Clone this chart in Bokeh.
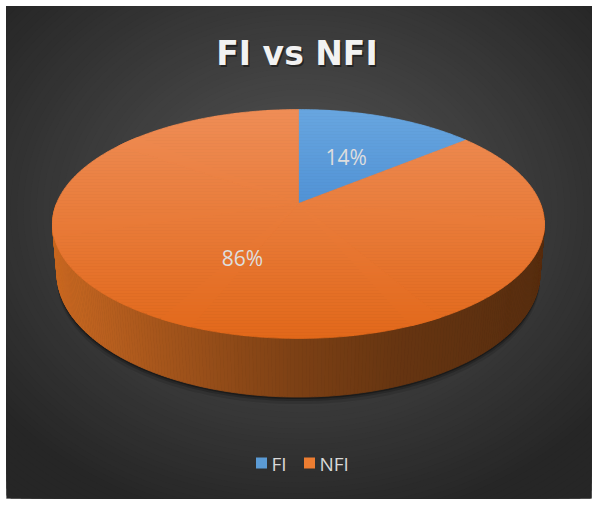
import numpy as np
from bokeh.plotting import figure
from bokeh.models import Range1d
from bokeh.embed import file_html
from bokeh.resources import INLINE
from bokeh.core.properties import value

# ---------------- data ----------------
title_text = "FI vs NFI"
categories = ["FI", "NFI"]
values = [14, 86]
slice_colors = ["#5b9bd5", "#ed7d31"]
# shading of each slice's top face (lighter at back, darker at front)
top_light = ["#68a6e0", "#ef8d56"]
top_dark = ["#2f76c6", "#e2681a"]

FONT = "Open Sans"


def hex2rgb(h):
    h = h.lstrip("#")
    return np.array([int(h[i:i + 2], 16) for i in (0, 2, 4)], dtype=float)


def rgb2hex(c):
    c = np.clip(np.round(c), 0, 255).astype(int)
    return "#%02x%02x%02x" % tuple(c)


def lerp(a, b, f):
    return rgb2hex(hex2rgb(a) * (1 - f) + hex2rgb(b) * f)


# ---------------- figure (data units == page pixels) ----------------
X0, X1, Y0, Y1 = 6, 591, 6, 498
p = figure(width=598, height=507, x_range=Range1d(X0, X1), y_range=Range1d(Y1, Y0),
           output_backend="svg", toolbar_location=None,
           min_border_left=X0, min_border_top=Y0, min_border_right=598 - X1,
           min_border_bottom=507 - Y1,
           x_axis_type=None, y_axis_type=None)
p.grid.visible = False
p.outline_line_color = "#c9c9c9"
p.background_fill_color = "#262626"
p.border_fill_color = "white"

# background radial gradient
bg_cx, bg_cy, bg_a, bg_b = 300, 210, 460, 380
ss = np.linspace(1.0, 0.02, 70)
bg_cols = [lerp("#4b4b4b", "#262626", float(np.clip((s - 0.2) / 0.65, 0, 1))) for s in ss]
p.ellipse(x=[bg_cx] * len(ss), y=[bg_cy] * len(ss), width=list(2 * bg_a * ss),
          height=list(2 * bg_b * ss), fill_color=bg_cols, line_color=None)

# ---------------- 3D pie geometry ----------------
cx = 298.0
cy_top = 203.0


def proj(r, t, top=True):
    if top:
        cy, rx, ry, k = cy_top, 242.0, 110.8, 0.179
    else:
        cy, rx, ry, k = 252.0, 238.0, 120.0, 0.17
    s = r * np.sin(t)
    c = r * np.cos(t)
    d = 1 + k * s
    return cx + rx * c / d, cy - ry * s / d


total = float(sum(values))
bounds = [np.pi / 2]
cum = 0.0
for v in values:
    cum += v
    bounds.append(np.pi / 2 - 2 * np.pi * cum / total)

# shadow under the pie
tt = np.linspace(np.pi, 2 * np.pi, 200)
bx, by = proj(1.0, tt, top=False)
for off, al in ((7, 0.12), (4, 0.2), (2, 0.3)):
    p.patch(list(bx) + [bx[0]], list(by + off) + [by[0]], fill_color="black",
            fill_alpha=al, line_color=None)

# side wall (near half only is visible)
shade_x = [52, 150, 240, 300, 400, 544]
shade_f = [0.85, 0.71, 0.59, 0.52, 0.43, 0.37]


def slice_of(t):
    a = (np.pi / 2 - t) % (2 * np.pi)
    frac = a / (2 * np.pi) * total
    c = 0.0
    for i, v in enumerate(values):
        c += v
        if frac <= c:
            return i
    return len(values) - 1


ts = np.linspace(np.pi, 2 * np.pi, 241)
sx, sy, scol = [], [], []
for i in range(len(ts) - 1):
    t0, t1 = ts[i], ts[i + 1]
    x0t, y0t = proj(1.0, t0, True)
    x1t, y1t = proj(1.0, t1, True)
    x0b, y0b = proj(1.0, t0, False)
    x1b, y1b = proj(1.0, t1, False)
    xm = (x0t + x1t) / 2
    f = float(np.interp(xm, shade_x, shade_f))
    base = hex2rgb(slice_colors[slice_of((t0 + t1) / 2)])
    base = base * np.array([f, f * 0.98, f * 0.8])
    sx.append([x0t, x1t, x1b, x0b])
    sy.append([y0t, y1t, y1b, y0b])
    scol.append(rgb2hex(base))
p.patches(xs=sx, ys=sy, fill_color=scol, line_color=scol, line_width=0.8)


# top face, drawn in horizontal bands for a vertical gradient
def clip_poly(poly, y_lim, keep_above):
    out = []
    n = len(poly)
    for i in range(n):
        cur = poly[i]
        prev = poly[i - 1]
        cin = cur[1] >= y_lim if keep_above else cur[1] <= y_lim
        pin = prev[1] >= y_lim if keep_above else prev[1] <= y_lim
        if cin:
            if not pin:
                f = (y_lim - prev[1]) / (cur[1] - prev[1])
                out.append((prev[0] + f * (cur[0] - prev[0]), y_lim))
            out.append(cur)
        elif pin:
            f = (y_lim - prev[1]) / (cur[1] - prev[1])
            out.append((prev[0] + f * (cur[0] - prev[0]), y_lim))
    return out


y_top_face, y_bot_face = 109.0, 338.0
BAND = 3.0
OVER = 0.06  # angular overlap between convex sub-pieces of one slice (hides seams)
bands = np.arange(104.0, 344.0, BAND)
tx, ty, tcol = [], [], []
for i in range(len(values)):
    span = bounds[i] - bounds[i + 1]
    npieces = int(np.ceil(span / (np.pi / 3)))
    edges = np.linspace(bounds[i], bounds[i + 1], npieces + 1)
    for j in range(npieces):
        a0 = edges[j] + (OVER if j > 0 else 0.0)
        a1 = edges[j + 1] - (OVER if j < npieces - 1 else 0.0)
        arc_t = np.linspace(a0, a1, 60)
        ax_, ay_ = proj(1.0, arc_t, True)
        poly = [(cx, cy_top)] + list(zip(ax_, ay_))
        for y0 in bands:
            y1 = y0 + BAND
            pp = clip_poly(poly, y0, True)
            if len(pp) < 3:
                continue
            pp = clip_poly(pp, y1, False)
            if len(pp) < 3:
                continue
            f = float(np.clip(((y0 + y1) / 2 - y_top_face) / (y_bot_face - y_top_face), 0, 1))
            c = lerp(top_light[i], top_dark[i], f)
            tx.append([q[0] for q in pp])
            ty.append([q[1] for q in pp])
            tcol.append(c)
p.patches(xs=tx, ys=ty, fill_color=tcol, line_color=tcol, line_width=0.7)

# data labels
lab_x, lab_y, lab_t = [], [], []
for i, v in enumerate(values):
    tm = (bounds[i] + bounds[i + 1]) / 2
    lx, ly = proj(0.5, tm, True)
    lab_x.append(float(lx))
    lab_y.append(float(ly))
    lab_t.append("%d%%" % round(100 * v / total))
p.text(x=lab_x, y=lab_y, text=lab_t, text_font=value(FONT), text_font_size="21px",
       text_color="#dedede", text_align="center", text_baseline="alphabetic")

# title with shadow
TFONT = "DejaVu Sans"
p.text(x=[298], y=[55], text=[title_text], text_font=value(TFONT), text_font_style="bold",
       text_font_size="33px", text_color="black", text_alpha=0.45, text_align="center",
       text_baseline="alphabetic")
p.text(x=[296.5], y=[53], text=[title_text], text_font=value(TFONT), text_font_style="bold",
       text_font_size="33px", text_color="#f2f2f2", text_align="center",
       text_baseline="alphabetic")

# legend
leg_x0, leg_dx, leg_y = 261, 48, 462.5
lx = [leg_x0 + i * leg_dx for i in range(len(categories))]
p.rect(x=lx, y=[leg_y] * len(lx), width=11, height=11, fill_color=slice_colors,
       line_color=None)
p.text(x=[x + 10 for x in lx], y=[leg_y + 1] * len(lx), text=categories,
       text_font=value(FONT), text_font_size="19px", text_color="#d9d9d9",
       text_align="left", text_baseline="alphabetic")

open("out.html", "w").write(file_html(p, INLINE))
